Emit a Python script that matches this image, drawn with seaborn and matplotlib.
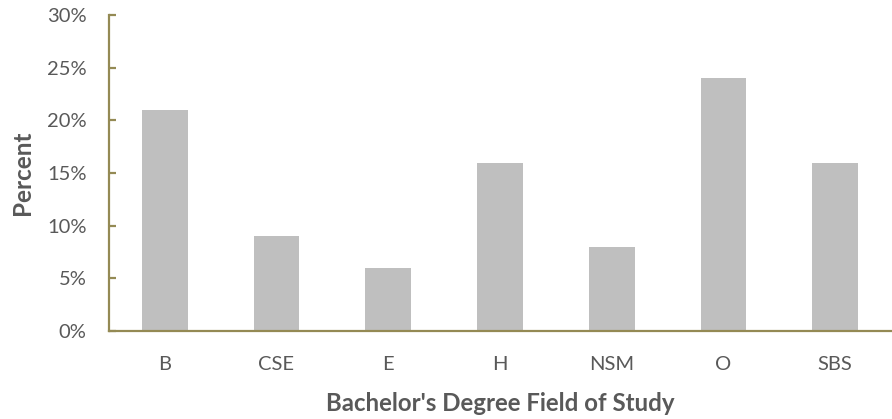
import matplotlib
matplotlib.use("Agg")
import matplotlib.pyplot as plt
import seaborn as sns
import pandas as pd
from matplotlib.ticker import FuncFormatter

categories = ["B", "CSE", "E", "H", "NSM", "O", "SBS"]
percents = [21, 9, 6, 16, 8, 24, 16]

df = pd.DataFrame({"Field": categories, "Percent": percents})

sns.set_theme(style="white")
plt.rcParams['font.family'] = ['Lato', 'DejaVu Sans']

fig = plt.figure(figsize=(8.92, 4.19), dpi=100)
ax = fig.add_axes([0.122, 0.21, 0.877, 0.754])

sns.barplot(data=df, x="Field", y="Percent", color="#BFBFBF", saturation=1,
            width=0.41, linewidth=0, ax=ax)

axis_color = "#948A54"
text_color = "#595959"
ax.set_ylim(0, 30)
ax.set_yticks([0, 5, 10, 15, 20, 25, 30])
ax.yaxis.set_major_formatter(FuncFormatter(lambda v, p: f"{int(v)}%"))
for s in ["top", "right"]:
    ax.spines[s].set_visible(False)
for s in ["left", "bottom"]:
    ax.spines[s].set_color(axis_color)
    ax.spines[s].set_linewidth(1.6)
ax.tick_params(axis="y", direction="in", length=5, width=1.6, color=axis_color,
               left=True, labelsize=14.5, labelcolor=text_color, pad=16)
ax.tick_params(axis="x", length=0, labelsize=14.5, labelcolor=text_color, pad=18)
ax.set_xlabel("Bachelor's Degree Field of Study", fontsize=17.3, fontweight="bold",
              color=text_color, labelpad=14)
ax.set_ylabel("Percent", fontsize=17.5, fontweight="bold", color=text_color, labelpad=9)

fig.savefig("out.png", dpi=100)
